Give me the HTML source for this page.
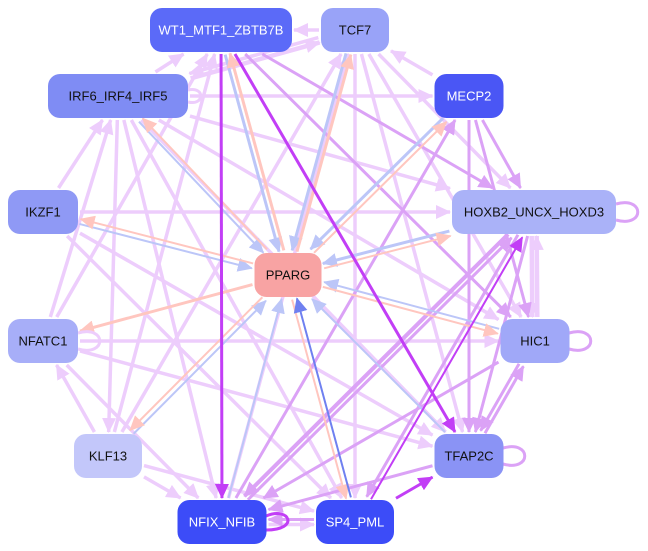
<!DOCTYPE html>
<html><head><meta charset="utf-8"><style>
html,body{margin:0;padding:0;background:#fff;width:648px;height:551px;overflow:hidden}
svg{display:block}
text{font-family:"Liberation Sans",sans-serif;font-size:13px;text-anchor:middle;dominant-baseline:central}
</style></head><body>
<svg id="g" width="648" height="551" viewBox="0 0 648 551"></svg>
<script>
const N={
WT:[221,30,142,'#5b6af8','#fff','WT1_MTF1_ZBTB7B'],
TCF7:[355,30,68,'#99a3f8','#111','TCF7'],
IRF:[118,96,140,'#7f8cf4','#111','IRF6_IRF4_IRF5'],
MECP2:[469,96,69,'#4a56f5','#fff','MECP2'],
IKZF1:[43,212,70,'#8f99f5','#111','IKZF1'],
HOX:[534,212,164,'#aab2f8','#111','HOXB2_UNCX_HOXD3'],
PPARG:[288,275,67,'#f8a3a3','#111','PPARG'],
NFATC1:[43,341,70,'#a7aef8','#111','NFATC1'],
HIC1:[535,341,69,'#a0a8f8','#111','HIC1'],
KLF13:[108,456,68,'#c3c7fa','#111','KLF13'],
TFAP2C:[469,456,69,'#8a93f5','#111','TFAP2C'],
NFIX:[222,522,89,'#3c4cf8','#fff','NFIX_NFIB'],
SP4:[355,522,78,'#3c4cf8','#fff','SP4_PML']};
const C={L:'#edcdfc',M:'#dba2f6',S:'#c23ef6',B:'#bcc6f8',P:'#ffc6bf',D:'#6f80f0'};
const E=[
['TCF7','WT','L',3],['IRF','WT','L',3],['IRF','TCF7','L',4],['TCF7','IRF','L',3],['MECP2','TCF7','L',3],['IRF','MECP2','L',3],
['WT','NFIX','S',3],['WT','TFAP2C','S',3],['WT','HIC1','M',3],['PPARG','WT','P',3],['WT','PPARG','B',3],
['PPARG','TCF7','P',3],['TCF7','PPARG','B',3],['MECP2','PPARG','B',3],['HOX','PPARG','B',3],['HIC1','PPARG','B',2],
['TFAP2C','PPARG','B',2],['SP4','PPARG','D',2],['PPARG','SP4','P',2],['NFIX','PPARG','B',2],['KLF13','PPARG','B',2],
['PPARG','KLF13','P',2],['PPARG','IRF','P',2],['IRF','PPARG','B',2],['PPARG','IKZF1','P',2],['IKZF1','PPARG','B',2],
['PPARG','NFATC1','P',3],['PPARG','HIC1','P',2],['PPARG','HOX','P',2],['PPARG','MECP2','P',2],
['IKZF1','HOX','L',3],['NFATC1','HIC1','L',3],['IRF','HOX','L',3],['IRF','HIC1','L',3],['WT','HOX','M',3],
['TCF7','HOX','L',3],['TCF7','HIC1','L',3],['TCF7','TFAP2C','L',3],['TCF7','SP4','L',3],['MECP2','HOX','M',3],
['MECP2','HIC1','M',3],['MECP2','TFAP2C','M',3],['HOX','HIC1','L',4],['HIC1','HOX','L',4],['HOX','TFAP2C','M',3],
['HOX','NFIX','M',4],['HOX','SP4','M',3],['HIC1','NFIX','M',3],['HIC1','TFAP2C','M',3],['TFAP2C','NFIX','M',3],
['SP4','TFAP2C','S',3],['SP4','HOX','S',2],['SP4','NFIX','M',3],['NFIX','SP4','L',3],['IRF','NFIX','L',3],
['IRF','SP4','L',3],['IRF','KLF13','L',3],['IKZF1','SP4','L',3],['IKZF1','TFAP2C','L',3],['NFATC1','NFIX','L',3],
['NFATC1','TFAP2C','L',3],['KLF13','NFIX','L',3],['KLF13','SP4','L',3],['KLF13','NFATC1','L',3],['KLF13','TCF7','L',3],
['KLF13','WT','L',3],['NFATC1','IRF','L',3],['IKZF1','IRF','L',3],['NFATC1','WT','L',3],['NFIX','TCF7','L',3],['NFIX','MECP2','M',3],
['IRF','TFAP2C','L',3],['NFIX','HOX','M',3],['TFAP2C','HIC1','M',3]];
const s=document.getElementById('g');let h='<defs>';
for(const k in C)h+=`<marker id="m${k}" markerUnits="userSpaceOnUse" markerWidth="16" markerHeight="14" refX="14" refY="7" orient="auto"><path d="M0,0L15,7L0,14z" fill="${C[k]}"/></marker>`;
h+='</defs>';
function clip(n,dx,dy){const w=N[n][2]/2+2,hh=24;return Math.min(Math.abs(dx)>0?w/Math.abs(dx):1e9,Math.abs(dy)>0?hh/Math.abs(dy):1e9);}
const order=['L','M','B','P','D','S'];
const pairs=new Set(E.map(e=>e[0]+'>'+e[1]));
E.sort((a,b)=>order.indexOf(a[2])-order.indexOf(b[2]));
for(const [a,b,c,w] of E){const A=N[a],B=N[b];const dx=B[0]-A[0],dy=B[1]-A[1];
const len=Math.hypot(dx,dy);let ox=0,oy=0;
if(pairs.has(b+'>'+a)){ox=-dy/len*2.5;oy=dx/len*2.5;}
const t0=clip(a,dx,dy),t1=1-clip(b,dx,dy);
h+=`<line x1="${A[0]+dx*t0+ox}" y1="${A[1]+dy*t0+oy}" x2="${A[0]+dx*t1+ox}" y2="${A[1]+dy*t1+oy}" stroke="${C[c]}" stroke-width="${c=='L'?w+0.5:w}" marker-end="url(#m${c})"/>`;}
h+=`<path d="M616,204 C645,196 645,228 616,220" fill="none" stroke="${C.M}" stroke-width="3"/>`;
h+=`<path d="M569,333 C598,325 598,357 569,349" fill="none" stroke="${C.M}" stroke-width="3"/>`;
h+=`<path d="M503,448 C532,440 532,472 503,464" fill="none" stroke="${C.M}" stroke-width="3"/>`;
h+=`<path d="M78,333 C107,325 107,357 78,349" fill="none" stroke="${C.L}" stroke-width="3"/>`;
h+=`<path d="M188,90 C205,86 205,106 188,102" fill="none" stroke="${C.L}" stroke-width="3"/>`;
h+=`<path d="M266,516 C290,506 300,530 266,530" fill="none" stroke="${C.S}" stroke-width="3"/>`;
for(const k in N){const [x,y,w,f,tc,l]=N[k];
h+=`<rect x="${x-w/2}" y="${y-22}" width="${w}" height="44" rx="12" fill="${f}"/><text x="${x}" y="${y}" fill="${tc}">${l}</text>`;}
s.innerHTML=h;
</script>
</body></html>
